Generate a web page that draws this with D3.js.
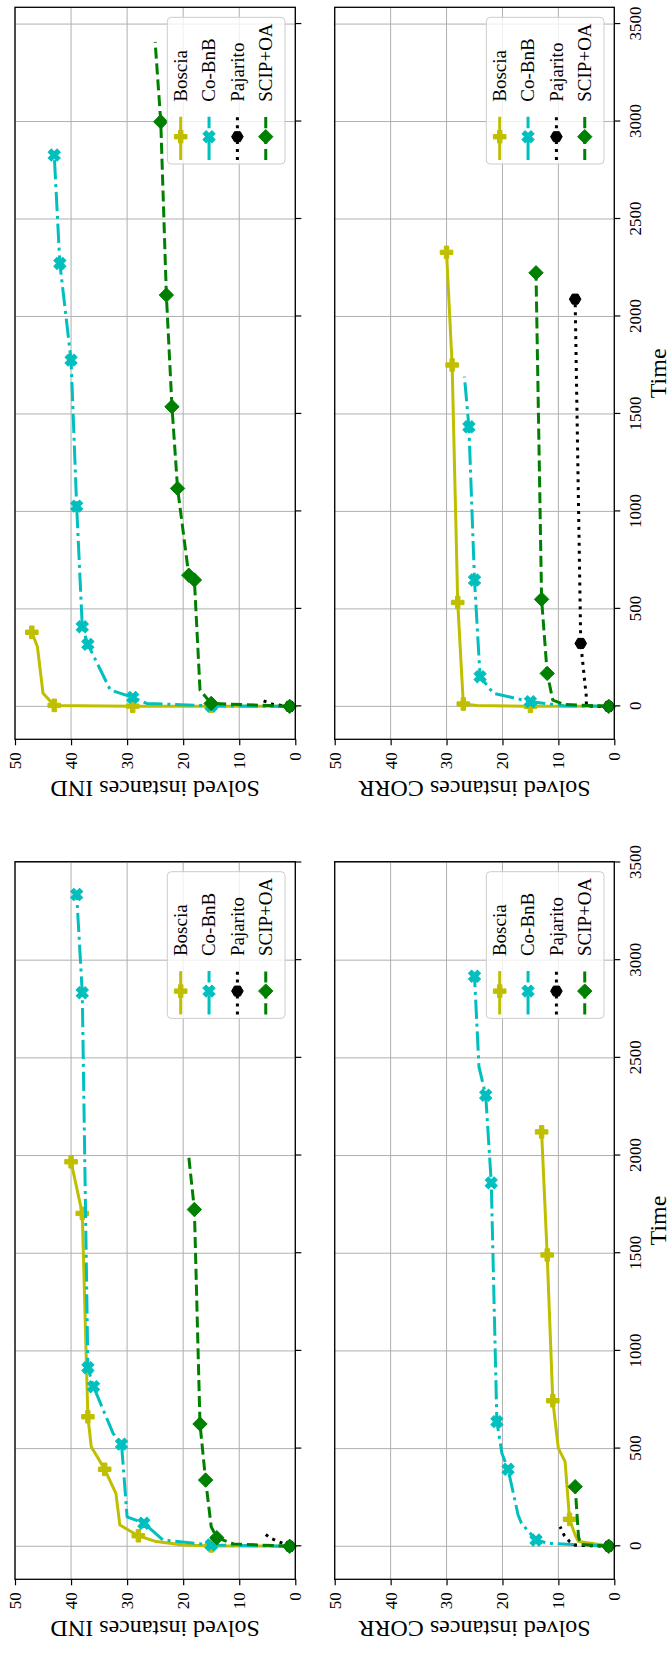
<!DOCTYPE html>
<meta charset="utf-8">
<style>
body { margin: 0; background: #fff; }
text { font-family: 'Liberation Serif', 'Times New Roman', serif; fill: #000; }
.grid line { stroke: #b0b0b0; stroke-width: 1; }
.axis path.domain { display: none; }
.axis line { stroke: #000; stroke-width: 1.2; }
.axis text { font-size: 17px; font-family: 'Liberation Serif', serif; }
</style>
<svg id="fig"></svg>
<script src="https://d3js.org/d3.v7.min.js"></script>
<script>
// solved instances vs. time, [time, solved]
var bosciaIndLeft   = [[0,1],[2,15],[7,20],[24,24.8],[54,28],[109,31.3],[271,32],[394,34],[510,36.4],[663,37],[1704,38],[1968,40]];
var cobnbIndLeft    = [[0,1],[7,15],[32,23.6],[118,27],[151,30],[523,31],[578,32.5],[817,36],[914,37],[2833,38],[3336,39]];
var pajaritoIndLeft = [[0,1],[24,3],[41,4.4],[70,5.7]];
var scipIndLeft     = [[0,1],[12,11],[44,14],[100,15],[339,16],[626,17],[1724,18],[1993,19]];

var bosciaIndRight   = [[0,1],[0,15],[1,29],[5,43],[67,45],[306,46],[380,47]];
var cobnbIndRight    = [[0,1],[2,15],[15,26.5],[46,29],[84,33],[318,37],[408,38],[1027,39],[1776,40],[2272,42],[2828,43]];
var pajaritoIndRight = [[0,1],[10,4],[35,6.3]];
var scipIndRight     = [[0,1],[15,15],[84,17],[648,18],[673,19],[1118,21],[1537,22],[2110,23],[2999,24],[3409,25]];

var bosciaCorrLeft   = [[0,1],[7,2],[24,6.4],[58,7],[138,8],[433,8.8],[501,10],[745,11],[1491,12],[2121,13]];
var cobnbCorrLeft    = [[0,1],[15,11.8],[32,14],[118,16.6],[160,17.2],[394,19],[476,20.1],[638,21],[1860,22],[2309,23],[2454,24.2],[2918,25]];
var pajaritoCorrLeft = [[0,1],[5,7],[24,8],[58,9],[100,9.7]];
var scipCorrLeft     = [[0,1],[10,6],[49,6.4],[305,7]];

var bosciaCorrRight   = [[0,1],[0,15],[5,24.6],[12,27],[533,28],[1751,29],[2329,30]];
var cobnbCorrRight    = [[0,1],[3,9],[24,15],[67,21.6],[152,24],[648,25],[1434,26],[1691,26.8]];
var pajaritoCorrRight = [[0,1],[2,5],[49,5],[323,6],[2089,7]];
var scipCorrRight     = [[0,1],[10,9],[32,11],[169,12],[549,13],[2224,14]];

// indices of points that carry a marker
var bosciaIndLeftMarks = [1,4,7,9,10,11];
var cobnbIndLeftMarks = [1,3,5,7,8,9,10];
var pajaritoIndLeftMarks = [0];
var scipIndLeftMarks = [0,2,4,5,6];
var bosciaIndRightMarks = [1,2,3,6];
var cobnbIndRightMarks = [1,3,5,6,7,8,9,10];
var pajaritoIndRightMarks = [0];
var scipIndRightMarks = [0,1,3,4,5,6,7,8];
var bosciaCorrLeftMarks = [4,7,8,9];
var cobnbCorrLeftMarks = [2,5,7,8,9,11];
var pajaritoCorrLeftMarks = [0];
var scipCorrLeftMarks = [0,3];
var bosciaCorrRightMarks = [1,3,4,5,6];
var cobnbCorrRightMarks = [2,4,5,6];
var pajaritoCorrRightMarks = [0,3,4];
var scipCorrRightMarks = [0,3,4,5];

var solvers = ["Boscia", "Co-BnB", "Pajarito", "SCIP+OA"];
var timeTicks = [0, 500, 1000, 1500, 2000, 2500, 3000, 3500];
var solvedTicks = [0, 10, 20, 30, 40, 50];

var colors = ["#bfbf00", "#00bfbf", "#000000", "#008000"];
var dashes = [null, "19.2,4.8,3,4.8", "3,4.95", "11.1,4.8"];
var shapes = ["plus", "x", "hex", "diamond"];

// the figure is drawn landscape and turned a quarter turn
var W = 1668, H = 671;
var svg = d3.select("#fig").attr("width", H).attr("height", W);
var fig = svg.append("g").attr("transform", "translate(0," + W + ") rotate(-90)");

var cols = [
    { left: 88.7, right: 806.3, domain: [-169, 3504] },
    { left: 928.7, right: 1660.7, domain: [-169, 3586] }
];
var rows = [
    { top: 15, bottom: 295.3 },
    { top: 334.7, bottom: 614.3 }
];

var panels = [
    { row: 0, col: 0, label: "Solved instances IND",
      lines: [bosciaIndLeft, cobnbIndLeft, pajaritoIndLeft, scipIndLeft],
      marks: [bosciaIndLeftMarks, cobnbIndLeftMarks, pajaritoIndLeftMarks, scipIndLeftMarks] },
    { row: 0, col: 1, label: "Solved instances IND",
      lines: [bosciaIndRight, cobnbIndRight, pajaritoIndRight, scipIndRight],
      marks: [bosciaIndRightMarks, cobnbIndRightMarks, pajaritoIndRightMarks, scipIndRightMarks] },
    { row: 1, col: 0, label: "Solved instances CORR",
      lines: [bosciaCorrLeft, cobnbCorrLeft, pajaritoCorrLeft, scipCorrLeft],
      marks: [bosciaCorrLeftMarks, cobnbCorrLeftMarks, pajaritoCorrLeftMarks, scipCorrLeftMarks] },
    { row: 1, col: 1, label: "Solved instances CORR",
      lines: [bosciaCorrRight, cobnbCorrRight, pajaritoCorrRight, scipCorrRight],
      marks: [bosciaCorrRightMarks, cobnbCorrRightMarks, pajaritoCorrRightMarks, scipCorrRightMarks] }
];

function markerPath(shape) {
    if (shape === "plus" || shape === "x") {
        var r = 6.3, w = 2.2;
        return "M" + (-w) + "," + (-r) + "H" + w + "V" + (-w) + "H" + r + "V" + w + "H" + w +
            "V" + r + "H" + (-w) + "V" + w + "H" + (-r) + "V" + (-w) + "H" + (-w) + "Z";
    }
    if (shape === "hex") {
        var pts = d3.range(6).map(function (i) {
            var a = -Math.PI / 2 + i * Math.PI / 3;
            return [5.8 * Math.cos(a), 5.8 * Math.sin(a)];
        });
        return "M" + pts.join("L") + "Z";
    }
    return "M0,-7.2L7.2,0L0,7.2L-7.2,0Z";
}

function drawMarker(g, shape, color, px, py) {
    g.append("path")
        .attr("d", markerPath(shape))
        .attr("transform", "translate(" + px + "," + py + ")" + (shape === "x" ? " rotate(45)" : ""))
        .attr("fill", color)
        .attr("stroke", color)
        .attr("stroke-width", 1);
}

panels.forEach(function (p) {
    var c = cols[p.col], r = rows[p.row];
    var x = d3.scaleLinear().domain(c.domain).range([c.left, c.right]);
    var y = d3.scaleLinear().domain([0, 50]).range([r.bottom, r.top]);
    var g = fig.append("g");

    // grid
    var grid = g.append("g").attr("class", "grid");
    grid.selectAll(".gx").data(timeTicks).enter().append("line")
        .attr("x1", function (d) { return x(d); }).attr("x2", function (d) { return x(d); })
        .attr("y1", r.top).attr("y2", r.bottom);
    grid.selectAll(".gy").data(solvedTicks).enter().append("line")
        .attr("x1", c.left).attr("x2", c.right)
        .attr("y1", function (d) { return y(d); }).attr("y2", function (d) { return y(d); });

    // axes
    var xAxis = d3.axisBottom(x).tickValues(timeTicks).tickSize(6).tickPadding(9)
        .tickFormat(p.row === 0 ? "" : d3.format("d"));
    g.append("g").attr("class", "axis")
        .attr("transform", "translate(0," + r.bottom + ")")
        .call(xAxis);
    g.append("g").attr("class", "axis")
        .attr("transform", "translate(" + c.left + ",0)")
        .call(d3.axisLeft(y).tickValues(solvedTicks).tickSize(6).tickPadding(7).tickFormat(d3.format("d")));

    // lines
    var line = d3.line().x(function (d) { return x(d[0]); }).y(function (d) { return y(d[1]); });
    p.lines.forEach(function (data, i) {
        g.append("path")
            .datum(data)
            .attr("d", line)
            .attr("fill", "none")
            .attr("stroke", colors[i])
            .attr("stroke-width", 3)
            .attr("stroke-linejoin", "round")
            .attr("stroke-dasharray", dashes[i]);
        p.marks[i].forEach(function (k) {
            drawMarker(g, shapes[i], colors[i], x(data[k][0]), y(data[k][1]));
        });
    });

    // frame
    g.append("rect")
        .attr("x", c.left).attr("y", r.top)
        .attr("width", c.right - c.left).attr("height", r.bottom - r.top)
        .attr("fill", "none").attr("stroke", "#000").attr("stroke-width", 1.3);

    // labels
    g.append("text")
        .attr("transform", "translate(" + (c.left - 42) + "," + ((r.top + r.bottom) / 2) + ") rotate(-90)")
        .attr("text-anchor", "middle")
        .style("font-size", "24px")
        .text(p.label);
    if (p.row === 1) {
        g.append("text")
            .attr("x", (c.left + c.right) / 2)
            .attr("y", r.bottom + 52)
            .attr("text-anchor", "middle")
            .style("font-size", "24px")
            .text("Time");
    }

    // legend, lower right
    var lw = 146.7, lh = 117.7;
    var lg = g.append("g")
        .attr("transform", "translate(" + (c.right - 10 - lw) + "," + (r.bottom - 10.3 - lh) + ")");
    lg.append("rect")
        .attr("width", lw).attr("height", lh).attr("rx", 4).attr("ry", 4)
        .attr("fill", "#fff").attr("fill-opacity", 0.8)
        .attr("stroke", "#cccccc").attr("stroke-width", 1);
    solvers.forEach(function (name, i) {
        var cy = 13.4 + i * 28.35;
        lg.append("line")
            .attr("x1", 4).attr("x2", 47.3).attr("y1", cy).attr("y2", cy)
            .attr("stroke", colors[i]).attr("stroke-width", 3)
            .attr("stroke-dasharray", dashes[i]);
        drawMarker(lg, shapes[i], colors[i], 27.3, cy);
        lg.append("text")
            .attr("x", 62.3).attr("y", cy).attr("dy", "0.33em")
            .style("font-size", "19px")
            .text(name);
    });
});
</script>
